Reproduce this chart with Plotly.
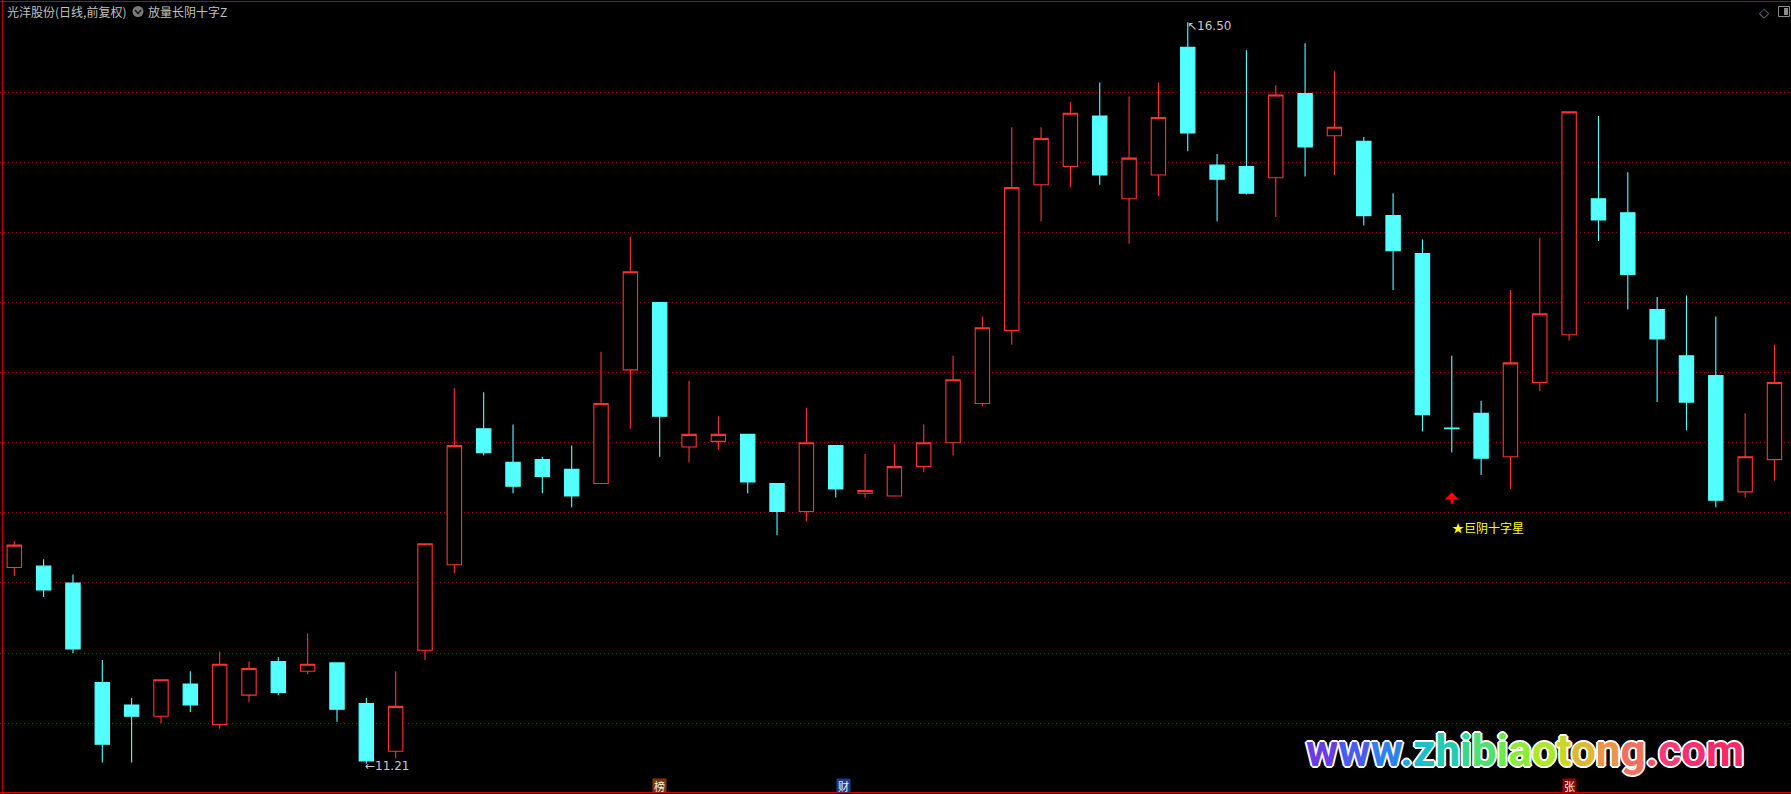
import plotly.graph_objects as go

# ---------------- data ----------------
bars = list(range(61))
opens = [12.61, 12.62, 12.50, 11.79, 11.63, 11.55, 11.78, 11.49, 11.70, 11.94,
         11.87, 11.93, 11.64, 11.30, 12.02, 12.63, 13.60, 13.36, 13.38, 13.31,
         13.21, 14.02, 14.50, 13.47, 13.51, 13.56, 13.21, 13.01, 13.48, 13.14,
         13.12, 13.33, 13.50, 13.78, 14.30, 15.34, 15.47, 15.83, 15.24, 15.41,
         16.32, 15.48, 15.47, 15.39, 15.99, 15.69, 15.65, 15.12, 14.85, 13.605,
         13.71, 13.40, 13.93, 14.27, 15.24, 15.14, 14.45, 14.12, 13.98, 13.15,
         13.38]
highs = [12.80, 12.67, 12.56, 11.95, 11.68, 11.81, 11.87, 12.01, 11.94, 11.97,
         12.14, 11.93, 11.68, 11.87, 12.78, 13.89, 13.86, 13.63, 13.40, 13.48,
         14.15, 14.97, 14.50, 13.94, 13.69, 13.56, 13.21, 13.75, 13.48, 13.42,
         13.49, 13.63, 14.12, 14.40, 15.75, 15.75, 15.93, 16.07, 15.97, 16.07,
         16.50, 15.56, 16.30, 16.05, 16.35, 16.15, 15.68, 15.28, 14.95, 14.12,
         13.80, 14.59, 14.96, 15.86, 15.83, 15.43, 14.54, 14.55, 14.40, 13.71,
         14.20]
lows = [12.55, 12.40, 12.00, 11.22, 11.22, 11.50, 11.58, 11.46, 11.65, 11.70,
        11.85, 11.51, 11.21, 11.25, 11.95, 12.57, 13.41, 13.14, 13.14, 13.04,
        13.21, 13.60, 13.40, 13.36, 13.45, 13.14, 12.84, 12.94, 13.11, 13.11,
        13.12, 13.29, 13.41, 13.76, 14.20, 15.08, 15.32, 15.34, 14.92, 15.26,
        15.58, 15.08, 15.27, 15.11, 15.40, 15.41, 15.05, 14.59, 13.58, 13.43,
        13.27, 13.17, 13.87, 14.23, 14.94, 14.45, 13.79, 13.59, 13.04, 13.11,
        13.23]
closes = [12.77, 12.45, 12.03, 11.35, 11.55, 11.81, 11.63, 11.92, 11.89, 11.72,
          11.92, 11.60, 11.23, 11.62, 12.78, 13.48, 13.43, 13.19, 13.26, 13.12,
          13.78, 14.72, 13.69, 13.56, 13.56, 13.22, 13.01, 13.50, 13.17, 13.16,
          13.33, 13.50, 13.95, 14.32, 15.32, 15.67, 15.85, 15.41, 15.53, 15.82,
          15.71, 15.38, 15.28, 15.98, 15.61, 15.75, 15.12, 14.87, 13.70, 13.60,
          13.39, 14.07, 14.42, 15.86, 15.09, 14.70, 14.24, 13.79, 13.09, 13.40,
          13.93]
grid_levels = [11.5, 12.0, 12.5, 13.0, 13.5, 14.0, 14.5, 15.0, 15.5, 16.0]
signal_bars = [49]
signal_label = "★巨阴十字星"
event_bars = [22, 28, 53]
event_labels = ["榜", "财", "张"]
event_colors = ["#7A3A00", "#1C3C8C", "#8C0000"]
title_text = "光洋股份(日线,前复权)"
indicator_text = "放量长阴十字Z"
watermark = "www.zhibiaotong.com"
watermark_colors = ["#6A3CE6", "#4A5CF0", "#2E80F0", "#22A6E0", "#1EC0C8",
                    "#22CCB0", "#34D890", "#4EE070", "#6CE850", "#8CEC38",
                    "#ACE828", "#CCD820", "#E0B830", "#EC9448", "#F27060",
                    "#F45070", "#F63C74", "#F83070", "#FA2868"]

# ---------------- styling ----------------
W, H = 1791, 794
RED = "#FF3232"
CYAN = "#54FFFF"
GRID = "#A00000"
BORDER = "#C00000"
X_RANGE = [-0.4874, 60.563]
Y_RANGE = [10.995, 16.658]
CJK = "Noto Sans CJK SC"


def px(x):
    return x / W


def py(y):
    return 1 - y / H


fig = go.Figure()
fig.add_trace(go.Candlestick(
    x=bars, open=opens, high=highs, low=lows, close=closes,
    increasing=dict(line=dict(color=RED, width=1.1), fillcolor="#000000"),
    decreasing=dict(line=dict(color=CYAN, width=1.1), fillcolor=CYAN),
    whiskerwidth=0, hoverinfo="skip", showlegend=False,
))

annotations = []
shapes = []

# high / low markers
hi_i = max(bars, key=lambda i: highs[i])
lo_i = min(bars, key=lambda i: lows[i])
annotations.append(dict(x=hi_i, y=highs[hi_i], xref="x", yref="y",
                        text="↖%.2f" % highs[hi_i], showarrow=False,
                        xanchor="left", yanchor="middle", yshift=-4, xshift=-3,
                        font=dict(family="DejaVu Sans", size=12, color="#C8C8C8")))
annotations.append(dict(x=lo_i, y=lows[lo_i], xref="x", yref="y",
                        text="←%.2f" % lows[lo_i], showarrow=False,
                        xanchor="left", yanchor="middle", yshift=-2, xshift=-3,
                        font=dict(family="DejaVu Sans", size=12, color="#C8C8C8")))

# signal markers
for i in signal_bars:
    annotations.append(dict(x=i, y=lows[i] * 0.98, xref="x", yref="y", text="",
                            showarrow=True, arrowhead=1, arrowsize=1.0,
                            arrowwidth=2.4, arrowcolor="#FF0000", ax=0, ay=13,
                            standoff=0, yshift=-2))
    annotations.append(dict(x=i, y=lows[i] * 0.96, xref="x", yref="y",
                            text=signal_label, showarrow=False, xanchor="left",
                            yanchor="middle", xshift=-2,
                            font=dict(family=CJK, size=12, color="#FFFF00")))

# bottom event tags
tag_shift = {28: 8}
for i, lab, col in zip(event_bars, event_labels, event_colors):
    annotations.append(dict(x=i, y=py(785), xref="x", yref="paper", text=lab,
                            showarrow=False, xanchor="center", yanchor="middle",
                            xshift=tag_shift.get(i, 0),
                            bgcolor=col, width=13, height=13, borderpad=0,
                            font=dict(family=CJK, size=11, color="#F0F0F0")))

# title texts
annotations.append(dict(x=px(5), y=py(11.5), xref="paper", yref="paper",
                        text=title_text, showarrow=False, xanchor="left",
                        yanchor="middle",
                        font=dict(family=CJK, size=12, color="#C0C0C0")))
annotations.append(dict(x=px(146), y=py(11.5), xref="paper", yref="paper",
                        text=indicator_text, showarrow=False, xanchor="left",
                        yanchor="middle",
                        font=dict(family=CJK, size=12, color="#C0C0C0")))
shapes.append(dict(type="circle", xref="paper", yref="paper",
                   x0=px(132.5), x1=px(143.5), y0=py(17), y1=py(6),
                   fillcolor="#7A7A7A", line=dict(width=0)))
shapes.append(dict(type="path", xref="paper", yref="paper",
                   path="M %f,%f L %f,%f L %f,%f" % (px(135), py(10), px(138), py(13.5), px(141), py(10)),
                   line=dict(color="#1A1A1A", width=1.6)))

# top-right icons
annotations.append(dict(x=px(1764), y=py(12), xref="paper", yref="paper",
                        text="◇", showarrow=False, xanchor="center",
                        yanchor="middle",
                        font=dict(family="DejaVu Sans", size=13, color="#8A8A8A")))
shapes.append(dict(type="rect", xref="paper", yref="paper",
                   x0=px(1778.5), x1=px(1789.5), y0=py(16.5), y1=py(6.5),
                   line=dict(color="#8A8A8A", width=1), fillcolor="rgba(0,0,0,0)"))
shapes.append(dict(type="rect", xref="paper", yref="paper",
                   x0=px(1784), x1=px(1788), y0=py(15), y1=py(8),
                   line=dict(width=0), fillcolor="#8A8A8A"))

# borders
shapes.append(dict(type="line", xref="paper", yref="paper", x0=px(2.5), x1=px(2.5),
                   y0=0, y1=1, line=dict(color=BORDER, width=1)))
shapes.append(dict(type="line", xref="paper", yref="paper", x0=0, x1=1,
                   y0=py(1.5), y1=py(1.5), line=dict(color=BORDER, width=1)))
shapes.append(dict(type="line", xref="paper", yref="paper", x0=0, x1=1,
                   y0=py(792.5), y1=py(792.5), line=dict(color="#D00000", width=1)))

# watermark
wm = "".join('<span style="color:%s">%s</span>' % (c, ch)
             for ch, c in zip(watermark, watermark_colors))
annotations.append(dict(x=px(1525), y=py(751), xref="paper", yref="paper",
                        text="<b>" + wm + "</b>", showarrow=False,
                        xanchor="center", yanchor="middle",
                        font=dict(family="Roboto", size=44, color="#FFFFFF",
                                  shadow="2px 0 0 #fff, -2px 0 0 #fff, 0 2px 0 #fff, 0 -2px 0 #fff, 1px 1px 0 #fff, -1px -1px 0 #fff, 1px -1px 0 #fff, -1px 1px 0 #fff")))

fig.update_layout(
    width=W, height=H,
    margin=dict(l=0, r=0, t=0, b=0, pad=0),
    paper_bgcolor="#000000", plot_bgcolor="#000000",
    showlegend=False,
    xaxis=dict(range=X_RANGE, showgrid=False, zeroline=False, showticklabels=False,
               showline=False, ticks="", rangeslider=dict(visible=False), fixedrange=True),
    yaxis=dict(range=Y_RANGE, tickmode="array", tickvals=grid_levels, showgrid=True,
               gridcolor=GRID, griddash="1px,3px", gridwidth=1, zeroline=False,
               showticklabels=False, showline=False, ticks="", fixedrange=True),
    annotations=annotations, shapes=shapes,
)

fig.write_html("out.html", config={"displayModeBar": False},
               post_script="document.body.style.margin='0';document.body.style.overflow='hidden';document.body.style.background='#000';")
